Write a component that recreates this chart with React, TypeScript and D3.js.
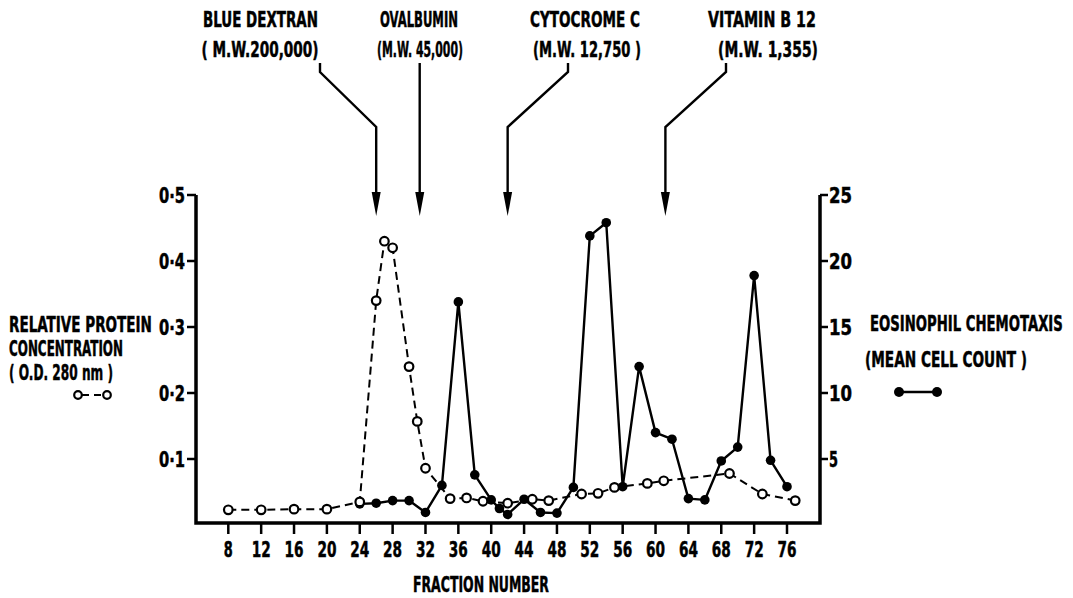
import * as d3 from 'd3';

// fraction number / relative protein (O.D. 280 nm), open circles, dashed
const proteinFractions = [8, 12, 16, 20, 24, 26, 27, 28, 30, 31, 32, 35, 37, 39, 42, 45, 47, 51, 53, 55, 59, 61, 69, 73, 77];
const proteinOD = [
  0.023, 0.023, 0.024, 0.024, 0.035, 0.34, 0.43, 0.42, 0.24, 0.157, 0.086, 0.04, 0.041,
  0.036, 0.033, 0.039, 0.037, 0.047, 0.048, 0.057, 0.063, 0.067, 0.078, 0.047, 0.037,
];

// fraction number / eosinophil chemotaxis (mean cell count), filled dots, solid
const chemoFractions = [24, 26, 28, 30, 32, 34, 36, 38, 40, 41, 42, 44, 46, 48, 50, 52, 54, 56, 58, 60, 62, 64, 66, 68, 70, 72, 74, 76];
const chemoCounts = [
  1.6, 1.65, 1.85, 1.85, 0.95, 3.0, 16.9, 3.8, 1.9, 1.25, 0.8, 1.95, 0.95, 0.9,
  2.85, 21.9, 22.9, 2.9, 12.0, 7.0, 6.5, 2.0, 1.9, 4.85, 5.9, 18.9, 4.9, 2.9,
];

const xTicks = d3.range(8, 77, 4);
const leftTicks = [0.1, 0.2, 0.3, 0.4, 0.5];
const leftTickLabels = ['0·1', '0·2', '0·3', '0·4', '0·5'];
const rightTicks = [5, 10, 15, 20, 25];

// calibration markers (elution position in fraction numbers)
const markerNames = ['BLUE DEXTRAN', 'OVALBUMIN', 'CYTOCROME C', 'VITAMIN B 12'];
const markerWeights = ['( M.W.200,000)', '(M.W. 45,000)', '(M.W. 12,750 )', '(M.W. 1,355)'];
const markerFractions = [26, 31.3, 42, 61.2];

// layout of the marker labels
const markerLabelX = [260.5, 419, 585, 762];
const markerWeightX = [260, 420, 587, 768];
const markerNameW = [115, 78, 110, 108];
const markerWeightW = [117, 86, 108, 100];
const leaderStartX = [320, 419.7, 568, 726];

const W = 1073;
const H = 598;
const FONT = "'DejaVu Sans Condensed', 'DejaVu Sans', sans-serif";

const frame = { left: 196, right: 820, top: 195, bottom: 523 };

let ctx: CanvasRenderingContext2D | null = null;
function measure(text: string, size: number) {
  if (!ctx) ctx = document.createElement('canvas').getContext('2d');
  if (!ctx) return text.length * size * 0.6;
  ctx.font = `bold ${size}px ${FONT}`;
  return ctx.measureText(text).width || text.length * size * 0.6;
}

// bold text squeezed horizontally to a given width (the original lettering is very condensed)
function Label({ x, y, w, size = 21, anchor = 'start', children }: any) {
  const s = w / measure(children, size);
  return (
    <text
      transform={`translate(${x},${y}) scale(${s.toFixed(3)},1)`}
      textAnchor={anchor}
      fontSize={size}
      fontWeight="bold"
      fontFamily={FONT}
      fill="#000"
      stroke="#000"
      strokeWidth={0.5}
    >
      {children}
    </text>
  );
}

export default function App() {
  const x = d3.scaleLinear().domain([8, 76]).range([228.3, 787]);
  const yL = d3.scaleLinear().domain([0, 0.5]).range([525, 195]);
  const yR = d3.scaleLinear().domain([0, 25]).range([525, 195]);

  const protein = proteinFractions.map((f, i) => ({ f, v: proteinOD[i] }));
  const chemo = chemoFractions.map((f, i) => ({ f, v: chemoCounts[i] }));

  const proteinLine = d3
    .line<{ f: number; v: number }>()
    .x((d) => x(d.f))
    .y((d) => yL(d.v))(protein);
  const chemoLine = d3
    .line<{ f: number; v: number }>()
    .x((d) => x(d.f))
    .y((d) => yR(d.v))(chemo);

  const kneeTop = 72;
  const kneeBottom = 127;
  const headTop = 196;
  const tip = 216;

  return (
    <svg
      width={W}
      height={H}
      style={{ position: 'absolute', left: 0, top: 0, background: '#fff' }}
    >
      <rect width={W} height={H} fill="#fff" />

      {/* frame */}
      <path
        d={`M${frame.left},${frame.top} V${frame.bottom} H${frame.right} V${frame.top}`}
        fill="none"
        stroke="#000"
        strokeWidth={3.5}
      />

      {/* left axis */}
      {leftTicks.map((t, i) => (
        <g key={t}>
          <line x1={frame.left - 9} x2={frame.left} y1={yL(t)} y2={yL(t)} stroke="#000" strokeWidth={2.5} />
          <Label x={frame.left - 11} y={yL(t) + 8} w={26} size={22} anchor="end">
            {leftTickLabels[i]}
          </Label>
        </g>
      ))}

      {/* right axis */}
      {rightTicks.map((t) => (
        <g key={t}>
          <line x1={frame.right} x2={frame.right + 8} y1={yR(t)} y2={yR(t)} stroke="#000" strokeWidth={2.5} />
          <Label x={frame.right + 9} y={yR(t) + 8} w={t < 10 ? 9 : 23} size={22}>
            {String(t)}
          </Label>
        </g>
      ))}

      {/* bottom axis */}
      {xTicks.map((t) => (
        <g key={t}>
          <line x1={x(t)} x2={x(t)} y1={frame.bottom} y2={frame.bottom + 11} stroke="#000" strokeWidth={2.5} />
          <Label x={x(t)} y={557} w={t < 10 ? 9 : 19} size={22} anchor="middle">
            {String(t)}
          </Label>
        </g>
      ))}
      <Label x={413} y={592} w={136} size={22}>
        FRACTION NUMBER
      </Label>

      {/* protein (dashed, open circles) */}
      <path d={proteinLine ?? ''} fill="none" stroke="#000" strokeWidth={2} strokeDasharray="8,5" />

      {/* chemotaxis (solid, filled dots) */}
      <path d={chemoLine ?? ''} fill="none" stroke="#000" strokeWidth={2.4} strokeLinejoin="round" />
      {chemo.map((d, i) => (
        <circle key={`c${i}`} cx={x(d.f)} cy={yR(d.v)} r={4.8} fill="#000" />
      ))}
      {protein.map((d, i) => (
        <circle key={`p${i}`} cx={x(d.f)} cy={yL(d.v)} r={4.3} fill="#fff" stroke="#000" strokeWidth={2.2} />
      ))}

      {/* calibration markers */}
      {markerFractions.map((f, i) => {
        const ax = x(f);
        const sx = leaderStartX[i];
        const straight = Math.abs(ax - sx) < 1;
        const d = straight
          ? `M${sx},63 V${headTop}`
          : `M${sx},63 V${kneeTop} L${ax},${kneeBottom} V${headTop}`;
        return (
          <g key={markerNames[i]}>
            <Label x={markerLabelX[i]} y={27} w={markerNameW[i]} size={22} anchor="middle">
              {markerNames[i]}
            </Label>
            <Label x={markerWeightX[i]} y={57} w={markerWeightW[i]} size={22} anchor="middle">
              {markerWeights[i]}
            </Label>
            <path d={d} fill="none" stroke="#000" strokeWidth={2.4} />
            <path d={`M${ax - 4.5},${headTop - 4} L${ax},${tip} L${ax + 4.5},${headTop - 4} Z`} fill="#000" />
          </g>
        );
      })}

      {/* left title + legend */}
      <Label x={9} y={332} w={143} size={22}>RELATIVE PROTEIN</Label>
      <Label x={9} y={356} w={114} size={22}>CONCENTRATION</Label>
      <Label x={9} y={380} w={104} size={22}>( O.D. 280 nm )</Label>
      <line x1={78} x2={107} y1={395} y2={395} stroke="#000" strokeWidth={2} strokeDasharray="7,5" strokeDashoffset={-4} />
      <circle cx={78} cy={395} r={3.8} fill="#fff" stroke="#000" strokeWidth={2.2} />
      <circle cx={107} cy={395} r={3.8} fill="#fff" stroke="#000" strokeWidth={2.2} />

      {/* right title + legend */}
      <Label x={870} y={331} w={193} size={22}>EOSINOPHIL CHEMOTAXIS</Label>
      <Label x={865} y={367} w={162} size={22}>(MEAN CELL COUNT )</Label>
      <line x1={899} x2={937} y1={392} y2={392} stroke="#000" strokeWidth={2.4} />
      <circle cx={899} cy={392} r={5} fill="#000" />
      <circle cx={937} cy={392} r={5} fill="#000" />
    </svg>
  );
}
